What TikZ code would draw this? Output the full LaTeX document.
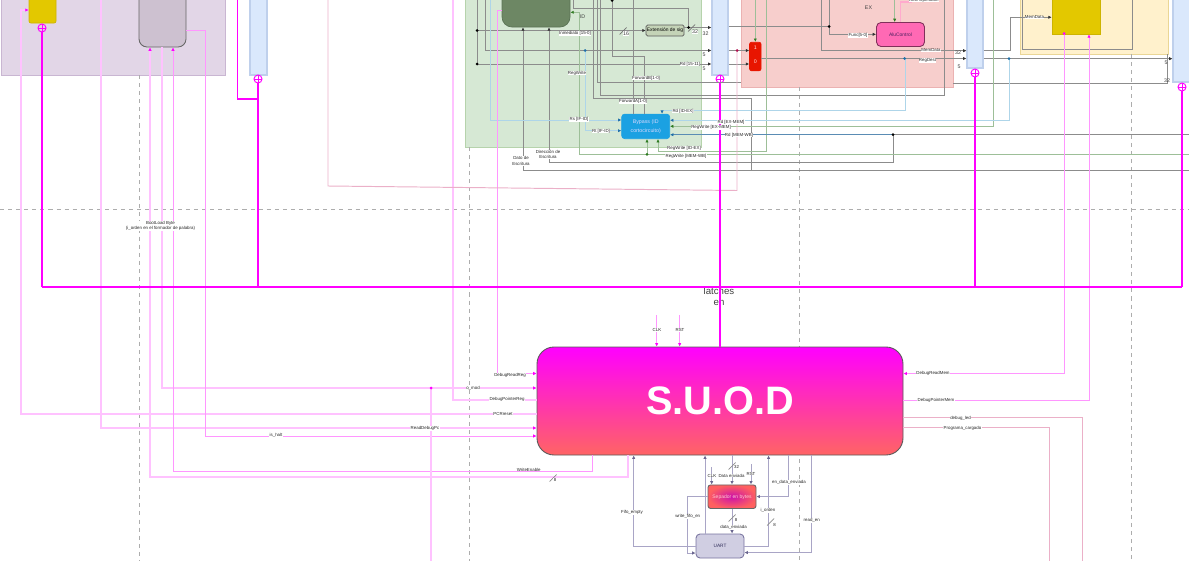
\documentclass[tikz,border=0pt]{standalone}
\usepackage{fontspec}
\setmainfont{Liberation Sans}
\usetikzlibrary{arrows.meta}
\definecolor{mag}{HTML}{FF00FF}
\definecolor{magpale}{HTML}{FFC2FF}
\definecolor{magmid}{HTML}{FF96FF}
\definecolor{rosew}{HTML}{EBB0C8}
\definecolor{rosel}{HTML}{FFAACD}
\definecolor{rosed}{HTML}{B01050}
\definecolor{greyw}{HTML}{8C8C8C}
\definecolor{greenw}{HTML}{9DBF98}
\definecolor{greend}{HTML}{2D7A20}
\definecolor{bluew}{HTML}{AED5E9}
\definecolor{blued}{HTML}{1F6FA8}
\definecolor{bluem}{HTML}{5A8CB4}
\definecolor{lavw}{HTML}{A9A5C6}
\definecolor{lavd}{HTML}{6A668F}
\definecolor{latchfill}{HTML}{DAE8FC}
\definecolor{latchline}{HTML}{BFD0EC}
\definecolor{ifbg}{HTML}{E2D6E7}
\definecolor{ifline}{HTML}{C9B6D2}
\definecolor{idbg}{HTML}{D6E8D4}
\definecolor{idline}{HTML}{B6D3AC}
\definecolor{exbg}{HTML}{F7CECC}
\definecolor{exline}{HTML}{EBB2B2}
\definecolor{membg}{HTML}{FFF1CC}
\definecolor{memline}{HTML}{EAD696}
\definecolor{yellowblk}{HTML}{E3C800}
\definecolor{yellowline}{HTML}{CDB400}
\definecolor{imemfill}{HTML}{CDC1D0}
\definecolor{regsfill}{HTML}{6D8764}
\definecolor{regsline}{HTML}{5A7355}
\definecolor{extfill}{HTML}{C4D3B7}
\definecolor{bypassfill}{HTML}{1BA1E2}
\definecolor{muxfill}{HTML}{E81500}
\definecolor{alufill}{HTML}{FF69B4}
\definecolor{aluline}{HTML}{80305A}
\definecolor{alutext}{HTML}{4A2060}
\definecolor{suodend}{HTML}{FF6464}
\definecolor{sepmid}{HTML}{CC11AA}
\definecolor{sepend}{HTML}{FF6060}
\definecolor{uartfill}{HTML}{D0CEE2}
\definecolor{uartline}{HTML}{78739F}
\definecolor{uarttext}{HTML}{33305C}
\tikzset{
    wgrey/.style={draw=greyw,line width=0.55pt},
    wgreen/.style={draw=greenw,line width=0.55pt},
    wblue/.style={draw=bluew,line width=0.55pt},
    wpale/.style={draw=magpale,line width=0.6pt},
    wmid/.style={draw=magmid,line width=0.5pt},
    wrose/.style={draw=rosew,line width=0.55pt},
    wlav/.style={draw=lavw,line width=0.55pt},
    wmag/.style={draw=mag,line width=0.8pt},
    tipk/.style={-{Latex[length=1.9pt,width=1.9pt,color=black!80]}},
    tipg/.style={-{Latex[length=1.9pt,width=1.9pt,color=greend]}},
    tipb/.style={-{Latex[length=1.9pt,width=1.9pt,color=blued]}},
    tipm/.style={-{Latex[length=1.9pt,width=1.9pt,color=mag]}},
    tipl/.style={-{Latex[length=1.9pt,width=1.9pt,color=lavd]}},
    blk/.style 2 args={minimum width=#1*0.02cm,minimum height=#2*0.02cm,inner sep=0pt,draw},
    latchbox/.style={fill=latchfill,draw=latchline,line width=0.6pt},
    cplus/.style={circle,draw=mag,line width=0.55pt,minimum size=8*0.02cm,inner sep=0pt,
        path picture={\draw[mag,line width=0.4pt] (path picture bounding box.north) -- (path picture bounding box.south)
            (path picture bounding box.west) -- (path picture bounding box.east);}},
    wdot/.style={circle,minimum size=3*0.02cm,inner sep=0pt,fill=#1},
    lbl/.style={font=\fontsize{2.5}{3.2}\selectfont,fill=white,inner sep=0.2pt,align=center,text=black!85},
    lbn/.style={font=\fontsize{3}{3.6}\selectfont,inner sep=0pt,text=black!75},
    guide/.style={black!32,line width=0.4pt,dash pattern=on 2.3pt off 2.3pt},
}
\begin{document}
\begin{tikzpicture}[x=0.02cm,y=-0.02cm]
    \useasboundingbox (0,0) rectangle (1189,561);
    \clip (0,0) rectangle (1189,561);

    % stage regions
    \filldraw[fill=ifbg,draw=ifline,line width=0.5pt] (1,-5) rectangle (225,75);
    \filldraw[fill=idbg,draw=idline,line width=0.5pt] (465,-5) rectangle (701,147);
    \filldraw[fill=exbg,draw=exline,line width=0.5pt] (741,-5) rectangle (953,87);
    \filldraw[fill=membg,draw=memline,line width=0.5pt] (1020,-5) rectangle (1168,54);

    % dashed guides
    \draw[guide] (0,209) -- (1189,209);
    \foreach \gx/\gy in {139/75,469/147,799/87,1131/54}
        \draw[guide] (\gx,\gy) -- (\gx,561);

    % blocks
    \node[blk={27}{33},fill=yellowblk,draw=yellowline,rounded corners=0.04cm] (ifreg) at (42.5,6.5) {};
    \node[blk={47}{57},fill=imemfill,draw=black!60,rounded corners=0.16cm,line width=0.5pt] (imem) at (162.5,18.5) {};
    \node[blk={68}{37},fill=regsfill,draw=regsline,rounded corners=0.2cm] (regs) at (536,8.5) {};
    \node[blk={48}{44},fill=yellowblk,draw=yellowline] (dmem) at (1076,12) {};
    \node[blk={38}{11},fill=extfill,draw=black!65,rounded corners=0.03cm,font=\fontsize{2.8}{3}\selectfont] (signext) at (665,30.5) {Extensión de sig};
    \node[blk={48}{24.5},fill=bypassfill,draw=bypassfill,rounded corners=0.06cm,text=white!85!blue,align=center,font=\fontsize{3}{5}\selectfont] (bypass) at (645.7,126.4) {Bypass (ID\\cortocircuito)};
    \node[blk={11.5}{28.5},fill=muxfill,draw=muxfill,rounded corners=0.04cm] (mux) at (755.3,56.5) {};
    \node[blk={48}{24},fill=alufill,draw=aluline,rounded corners=0.09cm,line width=0.5pt,text=alutext,font=\fontsize{2.8}{3}\selectfont] (alucontrol) at (900.5,34.5) {AluControl};
    \node[font=\fontsize{3}{3}\selectfont,text=white!85!red] (muxone) at (755.3,48) {1};
    \node[font=\fontsize{3}{3}\selectfont,text=white!85!red] (muxzero) at (755.3,62) {0};

    % latches
    \node[blk={17}{85},latchbox] (latcha) at (258.5,32.5) {};
    \node[blk={16}{85},latchbox] (latchb) at (720,32.5) {};
    \node[blk={16}{78},latchbox] (latchc) at (975,29) {};
    \node[blk={18}{92},latchbox] (latchd) at (1182,36) {};
    \node[cplus] (cpif) at (42,28) {};
    \node[cplus] (cpa) at (258,79) {};
    \node[cplus] (cpb) at (720,79) {};
    \node[cplus] (cpc) at (975,73) {};
    \node[cplus] (cpd) at (1182,87) {};

    % main controller blocks
    \node[minimum width=366*0.02cm,minimum height=108*0.02cm,inner sep=0pt,draw=black!65,line width=0.5pt,rounded corners=0.34cm,
        top color=mag,bottom color=suodend,text=white,font=\fontsize{22.6}{24}\selectfont\bfseries] (suod) at (720,401) {S.U.O.D};
    \node[blk={48}{23.5},draw=black!60,rounded corners=0.05cm,line width=0.5pt,inner color=sepmid,outer color=sepend,text=white!80!red,font=\fontsize{2.85}{3}\selectfont] (sepbytes) at (732,496.7) {Sepador en bytes};
    \node[blk={48}{24},fill=uartfill,draw=uartline,rounded corners=0.08cm,line width=0.5pt,text=uarttext,font=\fontsize{2.7}{3}\selectfont] (uart) at (720,546) {UART};

    \coordinate (topa) at (237.5,0);
    \coordinate (dotpc) at (737,50.5);

    % data path wires
    \draw[wgrey,tipk] (477,0) |- (signext.west |- 0,30.5);
    \draw[wgrey,tipk] (477,30.5) |- (latchb.west |- 0,64);
    \draw[wgrey,tipk] (485,0) |- (latchb.west |- 0,50.5);
    \draw[wgrey] (573,0) |- (688.5,8) -- (688.5,27.5);
    \draw[wgrey,tipk] (signext.east |- 0,27.5) -- (latchb.west |- 0,27.5);
    \draw[wgrey,tipk] (523,170.7) -- (regs.south -| 523,0);
    \draw[wgrey,tipk] (549,162.5) -- (regs.south -| 549,0);
    \draw[wgrey] (523,170.7) -- (1189,170.7);
    \draw[wgrey] (549,162.5) -| (893,134.7) -- (1189,134.7);
    \draw[wgrey] (593,0) |- (751,98.3) -- (751,170.7);
    \draw[wgrey] (597,0) |- (741,82.5);
    \draw[wgrey] (953,83.3) -- (1167.7,83.3) -- (1167.7,54);
    \draw[wgrey] (600,0) |- (944,95) -- (944,0);
    \draw[wgrey] (612,0) |- (644.3,56) -- (bypass.north -| 644.3,0);
    \draw[wgrey] (633,0) -- (bypass.north -| 633,0);
    \draw[wgrey,tipk] (latchb.east |- 0,50.5) -- (mux.west |- 0,50.5);
    \draw[wgrey,tipk] (latchb.east |- 0,64) -- (mux.west |- 0,64);
    \draw[wgrey] (latchb.east |- 0,26.5) -- (829,26.5);
    \draw[wgrey,tipk] (829,0) |- (alucontrol.west |- 0,34.3);
    \draw[wgrey,tipk] (821,0) |- (latchc.west |- 0,50.7);
    \draw[wgrey,tipk] (mux.east |- 0,58.5) -- (latchc.west |- 0,58.5);
    \draw[wgrey,tipk] (latchc.east |- 0,50) -| (1010,17.3) -- (dmem.west |- 0,17.3);
    \draw[wgrey,tipk] (latchc.east |- 0,58.7) -- (latchd.west |- 0,58.7);
    \draw[wgrey] (1022.7,0) |- (1132.7,49.3) -- (1132.7,0);

    % control wires
    \draw[wgreen,tipg] (755.3,0) -- (mux.north);
    \draw[wgreen,tipg] (894.7,0) -- (alucontrol.north -| 894.7,0);
    \draw[wgreen,tipg] (1189,154.3) -| (579.5,12.3) -- (regs.east |- 0,12.3);
    \draw[wgreen,tipg] (647,154.3) -- (bypass.south -| 647,0);
    \draw[wgreen,tipg] (766,0) |- (658,151) -- (bypass.south -| 658,0);
    \draw[wgreen,tipg] (993.3,0) |- (bypass.east |- 0,126.3);
    \draw[wblue,tipb] (490.5,0) |- (bypass.west |- 0,120);
    \draw[wblue,tipb] (585,50.5) |- (bypass.west |- 0,130.7);
    \draw[wblue,tipb] (905,58.5) |- (662,110.3) -- (bypass.north -| 662,0);
    \draw[wblue,tipb] (1009,58.7) |- (bypass.east |- 0,120.3);
    \draw[draw=bluem,line width=0.55pt,tipb] (893,134.7) -- (bypass.east |- 0,134.7);
    \draw[draw=rosel,line width=0.6pt] (alucontrol.north -| 900.5,0) |- (912,2);

    % debug wires
    \draw[wpale,tipm] (suod.west |- 0,414) -| (21,10) -- (ifreg.west |- 0,10);
    \draw[wpale,tipm] (101,0) |- (suod.west |- 0,428);
    \draw[wpale,tipm] (suod.south -| 628,0) |- (150,477) -- (imem.south -| 150,0);
    \draw[wpale,tipm] (imem.south -| 162,0) |- (suod.west |- 0,388);
    \draw[wmid,tipm] (suod.south -| 592,0) |- (173,471) -- (imem.south -| 173,0);
    \draw[wmid,tipm] (imem.east |- 0,30) -| (205,436) -- (suod.west |- 0,436);
    \draw[wpale] (431,561) -- (431,388);
    \draw[wpale] (453,0) |- (suod.west |- 0,400);
    \draw[wmid,tipm] (502,10) -- (497,10) |- (suod.west |- 0,373.5);
    \draw[wrose] (328,0) -- (328,186) -- (737,190.5) -- (dotpc);
    \draw[wmid,tipm] (dmem.south -| 1064,0) |- (suod.east |- 0,373.5);
    \draw[wmid,tipm] (suod.east |- 0,400.5) -| (dmem.south -| 1089,0);
    \draw[wrose] (suod.east |- 0,417) -| (1082,561);
    \draw[wrose] (suod.east |- 0,427.7) -| (1049,561);
    \draw[wmid,tipm] (656.7,315) -- (suod.north -| 656.7,0);
    \draw[wmid,tipm] (679.7,315) -- (suod.north -| 679.7,0);

    % uart wires
    \draw[wlav,tipl] (uart.west |- 0,546.7) -| (suod.south -| 633.7,0);
    \draw[wlav,tipl] (sepbytes.west |- 0,496.5) -| (687.6,553) -- (uart.west |- 0,553);
    \draw[wlav,tipl] (uart.north -| 705,0) -- (suod.south -| 705,0);
    \draw[wlav,tipl] (suod.south -| 732,0) -- (sepbytes.north -| 732,0);
    \draw[wlav,tipl] (711.7,467) -- (sepbytes.north -| 711.7,0);
    \draw[wlav,tipl] (751,464) -- (sepbytes.north -| 751,0);
    \draw[wlav,tipl] (suod.south -| 788.6,0) |- (sepbytes.east |- 0,496.5);
    \draw[wlav,tipl] (uart.east |- 0,546.7) -| (suod.south -| 768.6,0);
    \draw[wlav,tipl] (suod.south -| 811,0) |- (uart.east |- 0,552.5);
    \draw[wlav,tipl] (sepbytes.south -| 732,0) -- (uart.north -| 732,0);

    % bus ticks
    \foreach \tx/\ty in {623/31,691.5/28}
        \draw[black!55,line width=0.4pt] (\tx-3.5,\ty+3.5) -- (\tx+3.5,\ty-3.5);
    \foreach \tx/\ty in {553/478,732/466,732/518,770.5/522}
        \draw[black!45,line width=0.4pt] (\tx-3.5,\ty+3.5) -- (\tx+3.5,\ty-3.5);

    % junctions
    \node[wdot=black] (jimm) at (477,30.5) {};
    \node[wdot=black] (jrd) at (477,64) {};
    \node[wdot=black] (jfwd) at (612,0.5) {};
    \node[wdot=black] (jext) at (688.5,27.5) {};
    \node[wdot=black] (jfunc) at (829,26.5) {};
    \node[wdot=black] (jmem) at (893,134.7) {};
    \node[wdot=blued] (jrs) at (585,50.5) {};
    \node[wdot=blued] (jdest) at (904.5,58.5) {};
    \node[wdot=blued] (jmemd) at (1009,58.7) {};
    \node[wdot=greend] (jwb) at (647,154.3) {};
    \node[wdot=rosed] (jpc) at (dotpc) {};
    \node[wdot=mag] (jmod) at (431,388) {};
    \node[wdot=mag] (jdbg) at (1064,33.5) {};

    % latch enable text sits under the bus
    \node[font=\fontsize{5.5}{6.2}\selectfont,align=center,inner sep=0pt,text=black!75] (latchen) at (719,296.5) {latches\\en};

    % latch enable bus
    \draw[wmag] (topa) |- (258,99);
    \draw[wmag] (cpif) -- (42,287);
    \draw[wmag,line width=1.3pt] (cpa) -- (258,287);
    \draw[wmag,line width=1.1pt] (cpb) -- (suod.north -| 720,0);
    \draw[wmag] (cpc) -- (975,287);
    \draw[wmag] (cpd) -- (1182,287);
    \draw[wmag] (42,287) -- (1182,287);

    % top labels
    \node[lbl] (limm) at (575,33.5) {Inmediato [15-0]};
    \node[lbl] (lrd) at (690,64) {Rd [15-11]};
    \node[lbl] (lrw) at (577,73) {RegWrite};
    \node[lbl] (lfb) at (646,78) {ForwardB[1-0]};
    \node[lbl] (lfa) at (633,101.5) {ForwardA[1-0]};
    \node[lbl] (lrs) at (579,119.5) {Rs [IF-ID]};
    \node[lbl] (lrt) at (601,131) {Rt [IF-ID]};
    \node[lbl] (lrdid) at (683,111) {Rd [ID-EX]};
    \node[lbl] (lrdex) at (731,122) {Rd [EX-MEM]};
    \node[lbl] (lrwex) at (711,127.5) {RegWrite [EX-MEM]};
    \node[lbl] (lrdwb) at (739,135) {Rd [MEM-WB]};
    \node[lbl] (lrwid) at (684,148.5) {RegWrite [ID-EX]};
    \node[lbl] (lrwwb) at (686,156.5) {RegWrite [MEM-WB]};
    \node[lbl] (ldato) at (521,161) {Dato de\\Escritura};
    \node[lbl] (ldir) at (548,154.5) {Dirección de\\Escritura};
    \node[lbl] (lfunc) at (858,35.5) {Func[5-0]};
    \node[lbl] (ldest) at (927.5,60.5) {RegDest};
    \node[lbl] (lmema) at (931,50.5) {MemData};
    \node[lbl] (lmemb) at (1034.5,17.5) {MemData};
    \node[lbl] (lop) at (924,0) {ALU Operation};
    \node[lbl] (lboot) at (160.5,226) {BootLoad Byte\\(i\_orden en el formador de palabra)};
    % widths
    \node[lbn,fill=white,inner sep=0.2pt] (nsixteen) at (626,33.5) {16};
    \node[lbn,fill=white,inner sep=0.2pt] (nexta) at (695,32) {32};
    \node[lbn] (nextb) at (705.5,34) {32};
    \node[lbn] (nfa) at (704,55) {5};
    \node[lbn] (nfb) at (704,69) {5};
    \node[lbn] (nid) at (582.5,17) {ID};
    \node[lbn] (nex) at (868.5,8) {EX};
    \node[lbn] (nmema) at (958,52.5) {32};
    \node[lbn] (nfc) at (959,67) {5};
    \node[lbn] (nfd) at (1166,63) {5};
    \node[lbn] (nmemb) at (1167,81) {32};

    % bottom labels
    \node[lbl] (lclk) at (657,330) {CLK};
    \node[lbl] (lrst) at (680,330) {RST};
    \node[lbl] (ldrr) at (510,375.7) {DebugReadReg};
    \node[lbl] (lmod) at (473,388) {o\_mod};
    \node[lbl] (ldpr) at (507,399.7) {DebugPointerReg};
    \node[lbl] (lpcr) at (503,413.5) {PCRreset};
    \node[lbl] (lrdp) at (425,428.5) {ReadDebugPc};
    \node[lbl] (lhalt) at (276,435) {is\_halt};
    \node[lbl] (lwen) at (528.7,469.5) {WriteEnable};
    \node[lbl] (leight) at (555,479.5) {8};
    \node[lbl] (lfifo) at (632,512.7) {Fifo\_empty};
    \node[lbl] (lwfe) at (687.7,516.7) {write\_fifo\_en};
    \node[lbl] (lcks) at (712,475.5) {CLK};
    \node[lbl] (lden) at (731.5,475.5) {Data enviada};
    \node[lbl] (lrss) at (751,473.5) {RST};
    \node[lbl,fill=none] (lbus) at (736.5,466.5) {32};
    \node[lbl] (lend) at (789,482.7) {en\_data\_enviada};
    \node[lbl] (lior) at (768,510.7) {i\_orden};
    \node[lbl,fill=none] (liorb) at (774.5,524.5) {8};
    \node[lbl] (lren) at (811.7,520.7) {read\_en};
    \node[lbl,fill=none] (lsepb) at (736,519.5) {8};
    \node[lbl] (ldte) at (733.5,527.7) {data\_enviada};
    \node[lbl] (ldrm) at (933,373.5) {DebugReadMem};
    \node[lbl] (ldpm) at (936,400.5) {DebugPointerMem};
    \node[lbl] (lled) at (960.5,418.5) {debug\_led};
    \node[lbl] (lprog) at (962.5,428.5) {Programa\_cargado};
\end{tikzpicture}
\end{document}
